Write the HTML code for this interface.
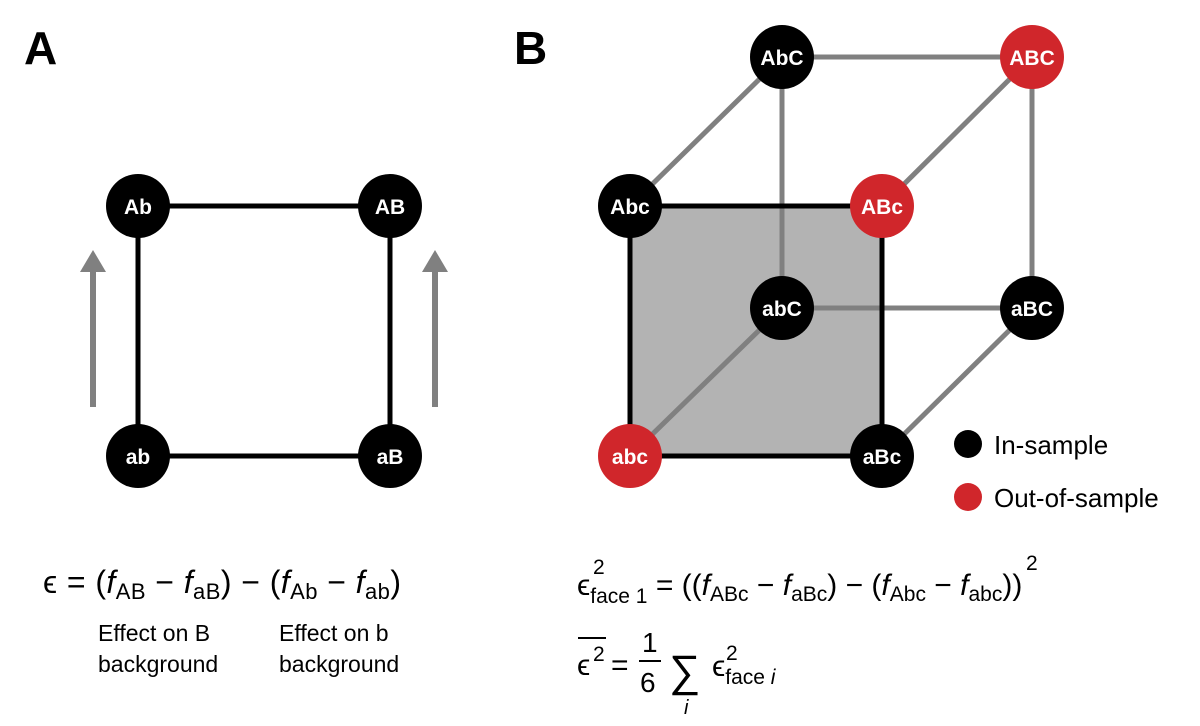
<!DOCTYPE html>
<html><head><meta charset="utf-8"><style>
html,body{margin:0;padding:0;background:#fff}
svg{display:block}
text{font-family:"Liberation Sans",sans-serif}
.n{fill:#fff;font-weight:bold;font-size:21px;text-anchor:middle}
.m{font-size:30px}
.c{font-size:23px}
</style></head><body>
<svg width="1200" height="726" viewBox="0 0 1200 726" xmlns="http://www.w3.org/2000/svg">
<text x="24" y="64" font-size="46" font-weight="bold">A</text>
<text x="514" y="64" font-size="46" font-weight="bold">B</text>
<!-- Panel A -->
<g stroke="#000" stroke-width="5" fill="none">
<rect x="138" y="206" width="252" height="250"/>
</g>
<g stroke="#808080" stroke-width="6" fill="#808080">
<line x1="93" y1="407" x2="93" y2="270"/>
<line x1="435" y1="407" x2="435" y2="270"/>
</g>
<polygon points="80,272 106,272 93,250" fill="#808080"/>
<polygon points="422,272 448,272 435,250" fill="#808080"/>
<g fill="#000">
<circle cx="138" cy="206" r="32"/><circle cx="390" cy="206" r="32"/>
<circle cx="138" cy="456" r="32"/><circle cx="390" cy="456" r="32"/>
</g>
<text class="n" x="138" y="214">Ab</text><text class="n" x="390" y="214">AB</text>
<text class="n" x="138" y="464">ab</text><text class="n" x="390" y="464">aB</text>
<!-- Panel B -->
<rect x="630" y="206" width="252" height="250" fill="#b3b3b3"/>
<g stroke="#808080" stroke-width="5">
<line x1="782" y1="57" x2="1032" y2="57"/>
<line x1="782" y1="57" x2="782" y2="308"/>
<line x1="1032" y1="57" x2="1032" y2="308"/>
<line x1="782" y1="308" x2="1032" y2="308"/>
<line x1="630" y1="206" x2="782" y2="57"/>
<line x1="882" y1="206" x2="1032" y2="57"/>
<line x1="630" y1="456" x2="782" y2="308"/>
<line x1="882" y1="456" x2="1032" y2="308"/>
</g>
<rect x="630" y="206" width="252" height="250" fill="none" stroke="#000" stroke-width="5"/>
<g>
<circle cx="782" cy="57" r="32" fill="#000"/><circle cx="1032" cy="57" r="32" fill="#d0262b"/>
<circle cx="782" cy="308" r="32" fill="#000"/><circle cx="1032" cy="308" r="32" fill="#000"/>
<circle cx="630" cy="206" r="32" fill="#000"/><circle cx="882" cy="206" r="32" fill="#d0262b"/>
<circle cx="630" cy="456" r="32" fill="#d0262b"/><circle cx="882" cy="456" r="32" fill="#000"/>
</g>
<text class="n" x="782" y="65">AbC</text><text class="n" x="1032" y="65">ABC</text>
<text class="n" x="782" y="316">abC</text><text class="n" x="1032" y="316">aBC</text>
<text class="n" x="630" y="214">Abc</text><text class="n" x="882" y="214">ABc</text>
<text class="n" x="630" y="464">abc</text><text class="n" x="882" y="464">aBc</text>
<circle cx="968" cy="444" r="14" fill="#000"/>
<circle cx="968" cy="497" r="14" fill="#d0262b"/>
<text x="994" y="454" font-size="26">In-sample</text>
<text x="994" y="507" font-size="26">Out-of-sample</text>
<!-- Formula A -->
<text x="43" y="593" font-size="32" textLength="358" lengthAdjust="spacing">ϵ = (<tspan font-style="italic">f</tspan><tspan font-size="22" dy="6">AB</tspan><tspan dy="-6"> − </tspan><tspan font-style="italic">f</tspan><tspan font-size="22" dy="6">aB</tspan><tspan dy="-6">) − (</tspan><tspan font-style="italic">f</tspan><tspan font-size="22" dy="6">Ab</tspan><tspan dy="-6"> − </tspan><tspan font-style="italic">f</tspan><tspan font-size="22" dy="6">ab</tspan><tspan dy="-6">)</tspan></text>
<text x="98" y="641" class="c">Effect on B</text>
<text x="98" y="672" class="c">background</text>
<text x="279" y="641" class="c">Effect on b</text>
<text x="279" y="672" class="c">background</text>
<!-- Formula B -->
<text x="577" y="595" class="m">ϵ<tspan font-size="21" dy="8">face 1</tspan><tspan dy="-8"> = ((</tspan><tspan font-style="italic">f</tspan><tspan font-size="21" dy="6">ABc</tspan><tspan dy="-6"> − </tspan><tspan font-style="italic">f</tspan><tspan font-size="21" dy="6">aBc</tspan><tspan dy="-6">) − (</tspan><tspan font-style="italic">f</tspan><tspan font-size="21" dy="6">Abc</tspan><tspan dy="-6"> − </tspan><tspan font-style="italic">f</tspan><tspan font-size="21" dy="6">abc</tspan><tspan dy="-6">))</tspan></text>
<text x="593" y="574" font-size="21">2</text>
<text x="1026" y="570" font-size="21">2</text>
<line x1="578" y1="638" x2="606" y2="638" stroke="#000" stroke-width="2"/>
<text x="577" y="675" class="m">ϵ</text>
<text x="593" y="661" font-size="21">2</text>
<text x="611" y="675" class="m">=</text>
<text x="642" y="652" font-size="28">1</text>
<line x1="639" y1="661" x2="661" y2="661" stroke="#000" stroke-width="2"/>
<text x="640" y="692" font-size="28">6</text>
<text x="669" y="686" font-size="44">∑</text>
<text x="684" y="714" font-size="20" font-style="italic">i</text>
<text x="712" y="676" class="m">ϵ<tspan font-size="21" dy="8">face <tspan font-style="italic">i</tspan></tspan></text>
<text x="726" y="660" font-size="21">2</text>
</svg>
</body></html>
